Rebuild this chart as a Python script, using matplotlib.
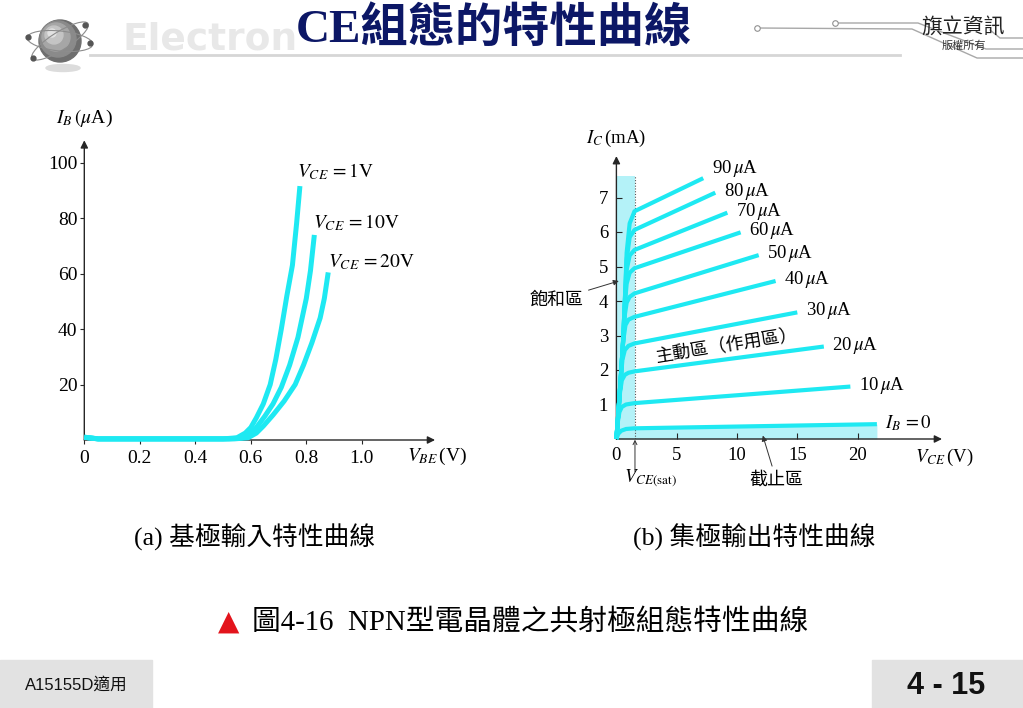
import matplotlib
matplotlib.use("Agg")
from matplotlib import pyplot as plt
from matplotlib.patches import Ellipse, Circle, Rectangle

plt.rcParams['font.family'] = ['Liberation Serif', 'Noto Sans CJK TC']
plt.rcParams['mathtext.fontset'] = 'stix'

# ---------------- data ----------------
# (a) input characteristic: I_B (uA) against V_BE (V), one curve per V_CE
vce_names = [r'$V_{CE}\,=1\mathrm{V}$', r'$V_{CE}\,=10\mathrm{V}$', r'$V_{CE}\,=20\mathrm{V}$']
vbe_1v = [0.0, 0.05, 0.50, 0.55, 0.58, 0.60, 0.62, 0.645, 0.67, 0.69, 0.71, 0.73, 0.75, 0.765, 0.777]
ib_1v = [1.0, 0.4, 0.4, 0.8, 2.5, 4.5, 8.0, 13.0, 20.0, 29.0, 40.0, 52.0, 63.0, 78.0, 91.5]
vbe_10v = [0.0, 0.05, 0.52, 0.57, 0.60, 0.62, 0.65, 0.68, 0.71, 0.74, 0.77, 0.80, 0.815, 0.829]
ib_10v = [1.0, 0.4, 0.4, 0.8, 2.5, 4.5, 8.5, 13.0, 19.0, 27.0, 37.0, 51.0, 61.0, 73.9]
vbe_20v = [0.0, 0.05, 0.54, 0.59, 0.62, 0.645, 0.68, 0.72, 0.76, 0.79, 0.82, 0.85, 0.865, 0.879]
ib_20v = [1.0, 0.4, 0.4, 0.8, 2.5, 5.0, 9.0, 14.0, 20.0, 27.0, 35.0, 44.0, 51.0, 60.4]
in_xticks = [0, 0.2, 0.4, 0.6, 0.8, 1.0]
in_xlabels = ['0', '0.2', '0.4', '0.6', '0.8', '1.0']
in_yticks = [20, 40, 60, 80, 100]

# (b) output characteristic: I_C (mA) against V_CE (V), one curve per I_B (uA)
ib_values = [0, 10, 20, 30, 40, 50, 60, 70, 80, 90]
vce_curves = [
    [0, 0.15, 0.4, 0.8, 1.5, 21.6],
    [0, 0.12, 0.25, 0.45, 0.8, 1.5, 19.4],
    [0, 0.15, 0.3, 0.45, 0.7, 1.0, 1.5, 17.2],
    [0, 0.15, 0.35, 0.5, 0.7, 1.0, 1.5, 15.0],
    [0, 0.15, 0.35, 0.55, 0.75, 1.0, 1.5, 13.2],
    [0, 0.15, 0.35, 0.55, 0.7, 0.85, 1.1, 1.5, 11.8],
    [0, 0.15, 0.35, 0.55, 0.7, 0.85, 1.1, 1.5, 10.3],
    [0, 0.15, 0.35, 0.55, 0.7, 0.85, 1.1, 1.5, 9.2],
    [0, 0.15, 0.35, 0.55, 0.7, 0.85, 1.1, 1.5, 8.2],
    [0, 0.15, 0.35, 0.55, 0.7, 0.85, 1.1, 1.5, 7.2],
]
ic_curves = [
    [0, 0.15, 0.24, 0.29, 0.31, 0.43],
    [0, 0.5, 0.78, 0.93, 1.0, 1.04, 1.52],
    [0, 0.7, 1.35, 1.7, 1.86, 1.92, 1.96, 2.68],
    [0, 0.7, 1.7, 2.3, 2.58, 2.7, 2.77, 3.67],
    [0, 0.7, 1.7, 2.8, 3.3, 3.46, 3.54, 4.58],
    [0, 0.7, 1.7, 2.8, 3.6, 3.95, 4.12, 4.22, 5.33],
    [0, 0.7, 1.7, 2.8, 3.9, 4.5, 4.82, 4.95, 5.99],
    [0, 0.7, 1.7, 2.8, 4.0, 4.9, 5.32, 5.48, 6.56],
    [0, 0.7, 1.7, 2.8, 4.0, 5.2, 5.85, 6.06, 7.14],
    [0, 0.7, 1.7, 2.8, 4.0, 5.4, 6.25, 6.6, 7.56],
]
vce_sat = 1.54      # edge of the saturation band
sat_top = 7.62      # top of the saturation band
out_xticks = [0, 5, 10, 15, 20]
out_yticks = [1, 2, 3, 4, 5, 6, 7]

CYAN = '#1ee9f2'
SHADE = '#b4f2f8'
AXC = '#262626'
W, H = 1023, 708


def px_axes(fig, x0, y0, sx, sy, xmax, ymax):
    # axes whose data origin sits on pixel (x0, y0), sx / sy = pixels per data unit
    ax = fig.add_axes([x0 / W, 1 - y0 / H, xmax * sx / W, ymax * sy / H])
    ax.set_xlim(0, xmax)
    ax.set_ylim(0, ymax)
    ax.patch.set_alpha(0)
    for s in ax.spines.values():
        s.set_visible(False)
    arrow = dict(arrowstyle='-|>', color=AXC, lw=1.0, mutation_scale=11, shrinkA=0, shrinkB=0)
    ax.annotate('', xy=(xmax, 0), xytext=(0, 0), arrowprops=arrow, annotation_clip=False)
    ax.annotate('', xy=(0, ymax), xytext=(0, 0), arrowprops=arrow, annotation_clip=False)
    return ax


fig = plt.figure(figsize=(W / 100, H / 100), dpi=100)
fig.patch.set_facecolor('white')

# ---------------- slide decoration (pixel coordinates) ----------------
deco = fig.add_axes([0, 0, 1, 1])
deco.set_xlim(0, W)
deco.set_ylim(H, 0)
deco.axis('off')

# logo: shaded sphere with two orbits
deco.add_patch(Ellipse((63, 68), 34, 7, color='#dcdcdc', zorder=1))
for r, c, dx in [(21, '#6e6e6e', 0), (18, '#8a8a8a', -2), (14, '#a6a6a6', -4), (9, '#c4c4c4', -6), (4, '#e2e2e2', -8)]:
    deco.add_patch(Circle((60 + dx, 41 + dx), r, color=c, zorder=2))
deco.add_patch(Ellipse((60, 41), 66, 18, angle=-32, fill=False, ec='#8c8c8c', lw=0.8, zorder=3))
deco.add_patch(Ellipse((60, 41), 66, 20, angle=6, fill=False, ec='#8c8c8c', lw=0.8, zorder=3))
deco.plot([33, 85, 90, 28], [58, 25, 43, 37], 'o', ms=3.5, color='#555555', zorder=4)

deco.text(122, 40, 'Electron', fontsize=27, fontweight='bold', color='#e8e8e8',
          family='DejaVu Sans', va='center', ha='left', zorder=1)
deco.plot([90, 900], [55, 55], color='#d6d6d6', lw=2, zorder=1)

deco.text(494, 30, 'CE組態的特性曲線', fontsize=34, fontweight='bold', color='#0c1766',
          ha='center', va='center', zorder=5)

# circuit-trace lines at the top right
deco.plot([757, 912, 977, 1023], [28, 29, 58, 58], color='#a8a8a8', lw=1)
deco.plot([835, 918, 986, 1023], [23, 23, 49, 49], color='#a8a8a8', lw=1)
deco.plot([990, 1000, 1023], [30, 38, 38], color='#a8a8a8', lw=1)
deco.plot([757, 835], [28, 23], 'o', ms=4, mfc='white', mec='#909090', mew=0.8)
deco.text(963, 28, '旗立資訊', fontsize=15, color='#222222', ha='center', va='center')
deco.text(964, 46, '版權所有', fontsize=8, color='#333333', ha='center', va='center')

# footer boxes
deco.add_patch(Rectangle((0, 660), 152, 48, color='#e2e2e2'))
deco.add_patch(Rectangle((872, 660), 151, 48, color='#e2e2e2'))
deco.text(76, 685, 'A15155D適用', fontsize=12, family=['Liberation Sans', 'Noto Sans CJK TC'],
          ha='center', va='center', color='#111111')
deco.text(946, 686, '4 - 15', fontsize=22, fontweight='bold', family='Liberation Sans',
          ha='center', va='center', color='#111111')

# captions
deco.text(255, 537, '(a) 基極輸入特性曲線', fontsize=18.5, ha='center', va='center')
deco.text(754, 537, '(b) 集極輸出特性曲線', fontsize=18.5, ha='center', va='center')
deco.text(229, 622, '▲', fontsize=20, family='DejaVu Sans', color='#e3141c', ha='center', va='center')
deco.text(252, 622, '圖4-16  NPN型電晶體之共射極組態特性曲線', fontsize=20.7, ha='left', va='center')

# ---------------- (a) input characteristic ----------------
ax1 = px_axes(fig, 84.3, 440, 277.5, 2.775, 1.264, 108)
for v, i in [(vbe_1v, ib_1v), (vbe_10v, ib_10v), (vbe_20v, ib_20v)]:
    ax1.plot(v, i, color=CYAN, lw=3.6, solid_capstyle='butt', clip_on=False, zorder=3)
ax1.set_xticks(in_xticks)
ax1.set_xticklabels(in_xlabels, fontsize=14)
ax1.set_yticks(in_yticks)
ax1.set_yticklabels([str(t) for t in in_yticks], fontsize=14)
ax1.tick_params(axis='both', direction='out', length=3, width=0.8, color=AXC, pad=2)
ax1.tick_params(axis='x', pad=4)
ax1.text(0, 115.7, r'$I_B\,(\mu$A)', fontsize=14, ha='center', va='center')
ax1.text(1.163, -6, r'$V_{BE}\,$(V)', fontsize=14, ha='left', va='center')
for name, x, y in zip(vce_names, [0.766, 0.824, 0.878], [96.7, 78.2, 64.1]):
    ax1.text(x, y, name, fontsize=14, ha='left', va='center')

# ---------------- (b) output characteristic ----------------
ax2 = px_axes(fig, 616.4, 439, 12.06, 34.5, 27, 8.2)
ax2.fill_between([0, vce_sat], 0, sat_top, color=SHADE, lw=0, zorder=1)
ax2.fill_between(vce_curves[0], 0, ic_curves[0], color=SHADE, lw=0, zorder=1)
ax2.plot([vce_sat, vce_sat], [0, sat_top], color='#555555', lw=0.8, ls=(0, (1, 1.5)), zorder=2)
for ib, v, i in zip(ib_values, vce_curves, ic_curves):
    ax2.plot(v, i, color=CYAN, lw=3.0, solid_capstyle='butt', clip_on=False, zorder=3)
    label = r'$I_B\,=0$' if ib == 0 else str(ib) + r'$\,\mu$A'
    # the top label sits a little above its line end
    lift = 7 if ib == 90 else 1
    ax2.annotate(label, xy=(v[-1], i[-1]), xytext=(6, lift), textcoords='offset points',
                 fontsize=13.5, ha='left', va='center', annotation_clip=False)
ax2.set_xticks(out_xticks)
ax2.set_xticklabels([str(t) for t in out_xticks], fontsize=13.5)
ax2.set_yticks(out_yticks)
ax2.set_yticklabels([str(t) for t in out_yticks], fontsize=13.5)
ax2.tick_params(axis='both', direction='in', length=4, width=0.8, color=AXC, pad=6)
ax2.text(0, 8.7, r'$I_C\,$(mA)', fontsize=13.5, ha='center', va='center')
ax2.text(24.8, -0.52, r'$V_{CE}\,$(V)', fontsize=13.5, ha='left', va='center')

thin = dict(arrowstyle='-|>', color='#333333', lw=0.7, mutation_scale=8, shrinkA=2, shrinkB=0)
ax2.annotate('飽和區', xy=(0.2, 4.58), xytext=(-5.0, 4.03), fontsize=13, ha='center', va='center',
             arrowprops=thin, annotation_clip=False)
ax2.annotate('截止區', xy=(12.14, 0.1), xytext=(13.26, -1.19), fontsize=13, ha='center', va='center',
             arrowprops=thin, annotation_clip=False)
ax2.annotate('', xy=(vce_sat, -0.02), xytext=(vce_sat, -0.95), annotation_clip=False,
             arrowprops=dict(arrowstyle='->', color='#333333', lw=0.7, mutation_scale=7,
                             shrinkA=0, shrinkB=0))
ax2.text(2.85, -1.15, r'$V_{CE(\mathrm{sat})}$', fontsize=13.5, ha='center', va='center')
ax2.text(9.15, 2.67, '主動區（作用區）', fontsize=13, rotation=9, ha='center', va='center',
         rotation_mode='anchor')

fig.savefig('out.png', dpi=100)
